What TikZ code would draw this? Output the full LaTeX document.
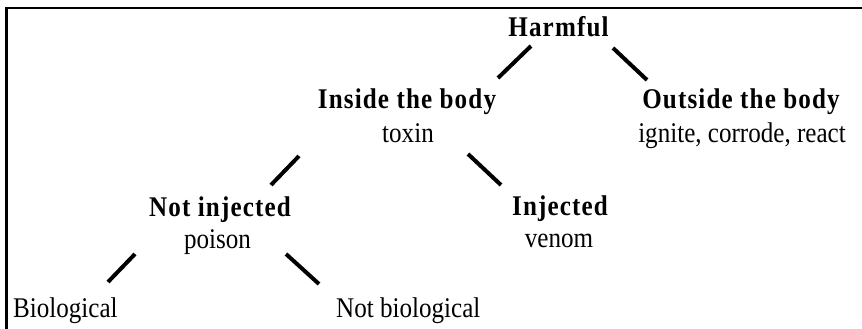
\documentclass[tikz,border=0pt]{standalone}
\usepackage{fontspec}
\setmainfont{Liberation Serif}[FakeStretch=0.88]
\newfontfamily\spfont{Liberation Serif}[FakeStretch=0.88,LetterSpace=4]
\begin{document}
\begin{tikzpicture}[x=1pt,y=-1pt,
  hd/.style={anchor=base,inner sep=0pt,font=\spfont\bfseries\fontsize{28.5}{32}\selectfont},
  sub/.style={anchor=base,inner sep=0pt,font=\fontsize{28.5}{32}\selectfont},
  conn/.style={line width=4pt},
  frame/.style={line width=2.2pt}]
\useasboundingbox (0,0) rectangle (862,329);
\draw[frame] (6.5,329) |- (862,8);
\node[hd] (harm) at (558.5,37) {Harmful};
\node[hd] (inside) at (407,108) {Inside the body};
\node[sub] (toxin) at (408,142) {toxin};
\node[hd] (outside) at (741,108) {Outside the body};
\node[sub] (ignite) at (742,142) {ignite, corrode, react};
\node[hd] (notinj) at (220,216) {Not injected};
\node[sub] (poison) at (217.5,248) {poison};
\node[hd] (inj) at (560,215) {Injected};
\node[sub] (venom) at (559,247) {venom};
\node[sub,anchor=base west] (bio) at (13,317) {Biological};
\node[sub,anchor=base west] (notbio) at (336,317) {Not biological};
\coordinate (a1) at (531,46); \coordinate (a2) at (498,78);
\coordinate (b1) at (613,48); \coordinate (b2) at (647,80);
\coordinate (c1) at (299,156); \coordinate (c2) at (271,185);
\coordinate (d1) at (468,154); \coordinate (d2) at (501,185);
\coordinate (e1) at (135,254); \coordinate (e2) at (108,282);
\coordinate (f1) at (286,254); \coordinate (f2) at (319,284);
\draw[conn] (a1) -- (a2);
\draw[conn] (b1) -- (b2);
\draw[conn] (c1) -- (c2);
\draw[conn] (d1) -- (d2);
\draw[conn] (e1) -- (e2);
\draw[conn] (f1) -- (f2);
\end{tikzpicture}
\end{document}
